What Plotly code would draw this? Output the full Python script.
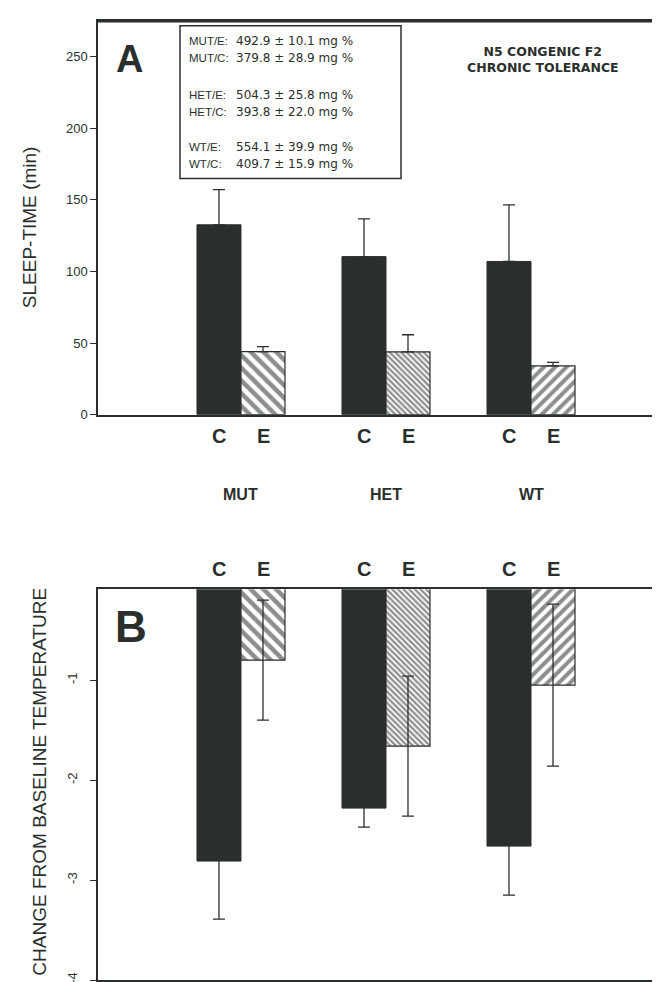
import plotly.graph_objects as go

groups = ["MUT", "HET", "WT"]
# Panel A: sleep time (min)
a_c = [132.6, 110.4, 107.0]
a_c_err = [24.5, 26.4, 39.5]
a_e = [44.0, 43.8, 34.0]
a_e_err = [3.5, 12.0, 2.5]
# Panel B: change from baseline temperature
b_c = [-2.81, -2.28, -2.66]
b_c_err = [0.58, 0.19, 0.49]
b_e = [-0.80, -1.66, -1.05]
b_e_err = [0.60, 0.70, 0.81]
a_ticks = [0, 50, 100, 150, 200, 250]
b_ticks = [-1, -2, -3, -4]
inset_labels = ["MUT/E:", "MUT/C:", "HET/E:", "HET/C:", "WT/E:", "WT/C:"]
inset_values = ["492.9 ± 10.1 mg %", "379.8 ± 28.9 mg %", "504.3 ± 25.8 mg %",
                "393.8 ± 22.0 mg %", "554.1 ± 39.9 mg %", "409.7 ± 15.9 mg %"]

W, H = 660, 982
DARK = "#2a2f2c"
FONT = "Liberation Sans"
xpos = [1, 2, 3]

def py(px):
    return 1 - px / H

def pxx(px):
    return px / W

fig = go.Figure()

e_patterns = ["\\", "\\", "/"]
e_sizes = [9, 4, 8]
e_sol = [0.5, 0.55, 0.5]
PAT = "#1a1d1b"

fig.add_trace(go.Bar(x=xpos, y=a_c, xaxis="x", yaxis="y", marker=dict(color=DARK, line=dict(color=DARK, width=1)),
                     error_y=dict(type="data", array=a_c_err, arrayminus=[0, 0, 0], symmetric=False,
                                  color=DARK, thickness=1.3, width=6), showlegend=False))
fig.add_trace(go.Bar(x=xpos, y=a_e, xaxis="x", yaxis="y",
                     marker=dict(color="white", line=dict(color=DARK, width=1.2),
                                 pattern=dict(shape=e_patterns, size=e_sizes, solidity=e_sol, fgcolor=PAT, bgcolor="white")),
                     error_y=dict(type="data", array=a_e_err, arrayminus=[0, 0, 0], symmetric=False,
                                  color=DARK, thickness=1.3, width=6), showlegend=False))
fig.add_trace(go.Bar(x=xpos, y=b_c, xaxis="x2", yaxis="y2", marker=dict(color=DARK, line=dict(color=DARK, width=1)),
                     error_y=dict(type="data", array=b_c_err, color=DARK, thickness=1.3, width=6), showlegend=False))
fig.add_trace(go.Bar(x=xpos, y=b_e, xaxis="x2", yaxis="y2",
                     marker=dict(color="white", line=dict(color=DARK, width=1.2),
                                 pattern=dict(shape=e_patterns, size=e_sizes, solidity=e_sol, fgcolor=PAT, bgcolor="white")),
                     error_y=dict(type="data", array=b_e_err, color=DARK, thickness=1.3, width=6), showlegend=False))

xdom = [pxx(90), pxx(658)]
xr = [0.014, 3.931]
fig.update_layout(
    width=W, height=H, margin=dict(l=0, r=0, t=0, b=0),
    paper_bgcolor="white", plot_bgcolor="white",
    barmode="group", bargap=0.393, bargroupgap=0,
    font=dict(family=FONT, color=DARK),
    xaxis=dict(domain=xdom, range=xr, showticklabels=False, ticks="", showgrid=False, zeroline=False,
               showline=True, linecolor=DARK, linewidth=2, mirror=True, anchor="y"),
    yaxis=dict(domain=[py(410), py(13)], range=[0, 275], tickvals=a_ticks, ticks="outside", ticklen=6,
               tickwidth=1.3, tickcolor=DARK, showgrid=False, zeroline=False, showline=True, linecolor=DARK,
               linewidth=1.5, mirror=True, tickfont=dict(size=13, family=FONT, color=DARK), anchor="x"),
    xaxis2=dict(domain=xdom, range=xr, showticklabels=False, ticks="", showgrid=False, zeroline=False,
                showline=True, linecolor=DARK, linewidth=2, mirror=True, anchor="y2"),
    yaxis2=dict(domain=[py(980), py(586)], range=[-4, -0.09], tickvals=b_ticks, ticktext=["-1", "-2", "-3", "-4"],
                tickangle=-90, ticks="outside", ticklen=6, tickwidth=1.3, tickcolor=DARK, showgrid=False,
                zeroline=False, showline=True, linecolor=DARK, linewidth=1.5, mirror=True,
                ticklabelstandoff=8,
                tickfont=dict(size=13, family=FONT, color=DARK), anchor="x2"),
)

ann = []
# C/E labels
off = 0.152
for i, g in enumerate(groups):
    for lab, dx in (("C", -off), ("E", off)):
        ann.append(dict(x=xpos[i] + dx, xref="x", y=py(432), yref="paper", text="<b>%s</b>" % lab,
                        showarrow=False, font=dict(size=20, family=FONT, color=DARK),
                        xanchor="center", yanchor="middle"))
        ann.append(dict(x=xpos[i] + dx, xref="x2", y=py(566), yref="paper", text="<b>%s</b>" % lab,
                        showarrow=False, font=dict(size=20, family=FONT, color=DARK),
                        xanchor="center", yanchor="middle"))
    ann.append(dict(x=xpos[i], xref="x", y=py(490), yref="paper", text="<b>%s</b>" % g,
                    showarrow=False, font=dict(size=16, family=FONT, color=DARK),
                    xanchor="center", yanchor="middle"))

ann.append(dict(x=pxx(106), xref="paper", y=py(51), yref="paper", text="<b>A</b>", xanchor="left",
                showarrow=False, font=dict(size=38, family=FONT, color=DARK), yanchor="middle"))
ann.append(dict(x=pxx(105), xref="paper", y=py(624), yref="paper", text="<b>B</b>", xanchor="left",
                showarrow=False, font=dict(size=44, family=FONT, color=DARK), yanchor="middle"))

ann.append(dict(x=pxx(535), xref="paper", y=py(52), yref="paper",
                text="<b>N5 CONGENIC F2<br>CHRONIC TOLERANCE</b>", align="center", xanchor="center",
                showarrow=False, font=dict(size=12.5, family="DejaVu Sans", color=DARK), yanchor="middle"))

line_y = [33, 50, 88, 105, 140, 157]
for lab, val, yy in zip(inset_labels, inset_values, line_y):
    ann.append(dict(x=pxx(179), xref="paper", y=py(yy), yref="paper", text=lab, xanchor="left",
                    showarrow=False, font=dict(size=11.5, family=FONT, color=DARK), yanchor="middle"))
    ann.append(dict(x=pxx(226), xref="paper", y=py(yy), yref="paper", text=val, xanchor="left",
                    showarrow=False, font=dict(size=12, family="DejaVu Sans", color=DARK), yanchor="middle"))

ann.append(dict(x=pxx(21), xref="paper", y=py(221), yref="paper", text="SLEEP-TIME (min)", textangle=-90,
                xanchor="center", yanchor="middle",
                showarrow=False, font=dict(size=19, family=FONT, color=DARK)))
ann.append(dict(x=pxx(32), xref="paper", y=py(780), yref="paper", text="CHANGE FROM BASELINE TEMPERATURE",
                xanchor="center", yanchor="middle",
                textangle=-90, showarrow=False, font=dict(size=19, family=FONT, color=DARK)))
fig.update_layout(annotations=ann)

fig.add_shape(type="rect", xref="paper", yref="paper", x0=pxx(172), x1=pxx(393), y0=py(172), y1=py(18),
              line=dict(color=DARK, width=1.5), fillcolor="white", layer="above")
fig.add_shape(type="line", xref="paper", yref="paper", x0=pxx(90), x1=pxx(658), y0=py(13), y1=py(13),
              line=dict(color=DARK, width=3))

fig.write_html("out.html")
